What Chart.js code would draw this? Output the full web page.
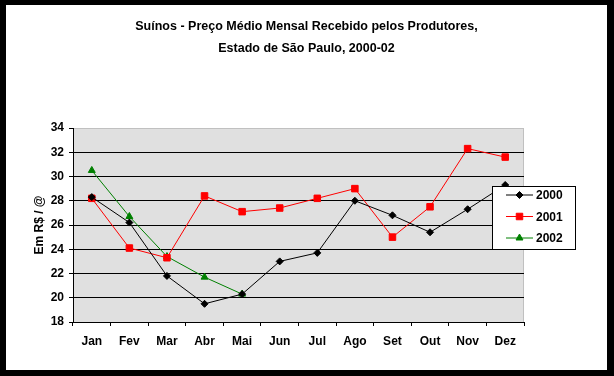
<!DOCTYPE html>
<html>
<head>
<meta charset="utf-8">
<script src="https://cdn.jsdelivr.net/npm/chart.js@4/dist/chart.umd.min.js"></script>
<style>
  html, body { margin: 0; padding: 0; background: #000; }
  #frame { position: absolute; left: 6px; top: 5px; width: 601px; height: 365px; background: #fff; }
</style>
</head>
<body>
<div id="frame"><canvas id="chart" width="601" height="365"></canvas></div>
<script>
// dados
const months = ["Jan", "Fev", "Mar", "Abr", "Mai", "Jun", "Jul", "Ago", "Set", "Out", "Nov", "Dez"];
const prices2000 = [28.3, 26.2, 21.8, 19.5, 20.3, 23.0, 23.7, 28.0, 26.8, 25.4, 27.3, 29.3];
const prices2001 = [28.2, 24.1, 23.3, 28.4, 27.1, 27.4, 28.2, 29.0, 25.0, 27.5, 32.3, 31.6];
const prices2002 = [30.5, 26.7, 23.4, 21.7, 20.3];
const yTicks = [18, 20, 22, 24, 26, 28, 30, 32, 34];

const FONT = "Arial, 'Liberation Sans', sans-serif";

// fundo cinza da área do gráfico
const plotBackground = {
  id: "plotBackground",
  beforeDraw(chart) {
    const { ctx, chartArea: a } = chart;
    ctx.save();
    ctx.fillStyle = "#e0e0e0";
    ctx.fillRect(a.left, a.top, a.right - a.left, a.bottom - a.top);
    ctx.strokeStyle = "#c0c0c0";
    ctx.lineWidth = 1;
    ctx.beginPath();
    ctx.moveTo(a.left, a.top + 0.5);
    ctx.lineTo(a.right - 0.5, a.top + 0.5);
    ctx.lineTo(a.right - 0.5, a.bottom);
    ctx.stroke();
    ctx.restore();
  },
};

// legenda em caixa à direita
const boxLegend = {
  id: "boxLegend",
  afterDraw(chart) {
    const ctx = chart.ctx;
    const x = 486.5, y = 181.5, w = 83, h = 63;
    ctx.save();
    ctx.fillStyle = "#fff";
    ctx.fillRect(x, y, w, h);
    ctx.strokeStyle = "#000";
    ctx.lineWidth = 1;
    ctx.strokeRect(x, y, w, h);
    chart.data.datasets.forEach((ds, i) => {
      const cy = 190 + i * 21.5;
      ctx.strokeStyle = ds.borderColor;
      ctx.fillStyle = ds.backgroundColor;
      ctx.lineWidth = 1;
      ctx.beginPath();
      ctx.moveTo(500, cy);
      ctx.lineTo(527, cy);
      ctx.stroke();
      Chart.helpers.drawPoint(ctx, {
        pointStyle: ds.pointStyle,
        radius: ds.pointRadius,
        borderWidth: 1,
      }, 513.5, cy);
      ctx.fillStyle = "#000";
      ctx.font = "bold 12px " + FONT;
      ctx.textBaseline = "middle";
      ctx.textAlign = "left";
      ctx.fillText(ds.label, 530, cy + 1);
    });
    ctx.restore();
  },
};

new Chart(document.getElementById("chart"), {
  type: "line",
  data: {
    labels: months,
    datasets: [
      {
        label: "2000",
        data: prices2000,
        borderColor: "#000000",
        backgroundColor: "#000000",
        pointStyle: "rectRot",
        pointRadius: 3.5,
        borderWidth: 1,
      },
      {
        label: "2001",
        data: prices2001,
        borderColor: "#ff0000",
        backgroundColor: "#ff0000",
        pointStyle: "rect",
        pointRadius: 4.6,
        borderWidth: 1,
      },
      {
        label: "2002",
        data: prices2002,
        borderColor: "#008000",
        backgroundColor: "#008000",
        pointStyle: "triangle",
        pointRadius: 4,
        borderWidth: 1,
      },
    ],
  },
  options: {
    responsive: false,
    animation: false,
    layout: { padding: 0 },
    elements: {
      line: { tension: 0 },
      point: { borderWidth: 1 },
    },
    scales: {
      x: {
        offset: true,
        grid: {
          offset: true,
          drawOnChartArea: false,
          drawTicks: true,
          tickLength: 4,
          tickColor: "#000",
        },
        border: { color: "#000", width: 1 },
        ticks: {
          color: "#000",
          padding: 8,
          maxRotation: 0,
          font: { family: FONT, size: 12, weight: "bold" },
        },
        afterFit(scale) {
          scale.height = 48;
        },
      },
      y: {
        min: 18,
        max: 34,
        grid: {
          color: (c) => (c.tick && c.tick.value === 34 ? "#c0c0c0" : "#000"),
          tickColor: "#000",
          tickLength: 4,
          lineWidth: 1,
        },
        border: { color: "#000", width: 1 },
        afterBuildTicks(scale) {
          scale.ticks = yTicks.map((v) => ({ value: v }));
        },
        ticks: {
          color: "#000",
          padding: 5,
          font: { family: FONT, size: 12, weight: "bold" },
        },
        title: {
          display: true,
          text: "Em R$ / @",
          color: "#000",
          padding: { top: 26, bottom: 0 },
          font: { family: FONT, size: 12, weight: "bold" },
        },
        afterFit(scale) {
          scale.width = 67;
        },
      },
      // eixo vazio à direita, só reserva espaço para a legenda
      spacer: {
        position: "right",
        min: 0,
        max: 1,
        grid: { display: false, drawTicks: false },
        border: { display: false },
        ticks: { display: false },
        afterFit(scale) {
          scale.width = 83;
        },
      },
    },
    plugins: {
      legend: { display: false },
      tooltip: { enabled: false },
      title: {
        display: true,
        text: [
          "Suínos - Preço Médio Mensal Recebido pelos Produtores,",
          "Estado de São Paulo, 2000-02",
        ],
        color: "#000",
        padding: { top: 11, bottom: 68 },
        font: { family: FONT, size: 12.5, weight: "bold", lineHeight: "22px" },
      },
    },
  },
  plugins: [plotBackground, boxLegend],
});
</script>
</body>
</html>
